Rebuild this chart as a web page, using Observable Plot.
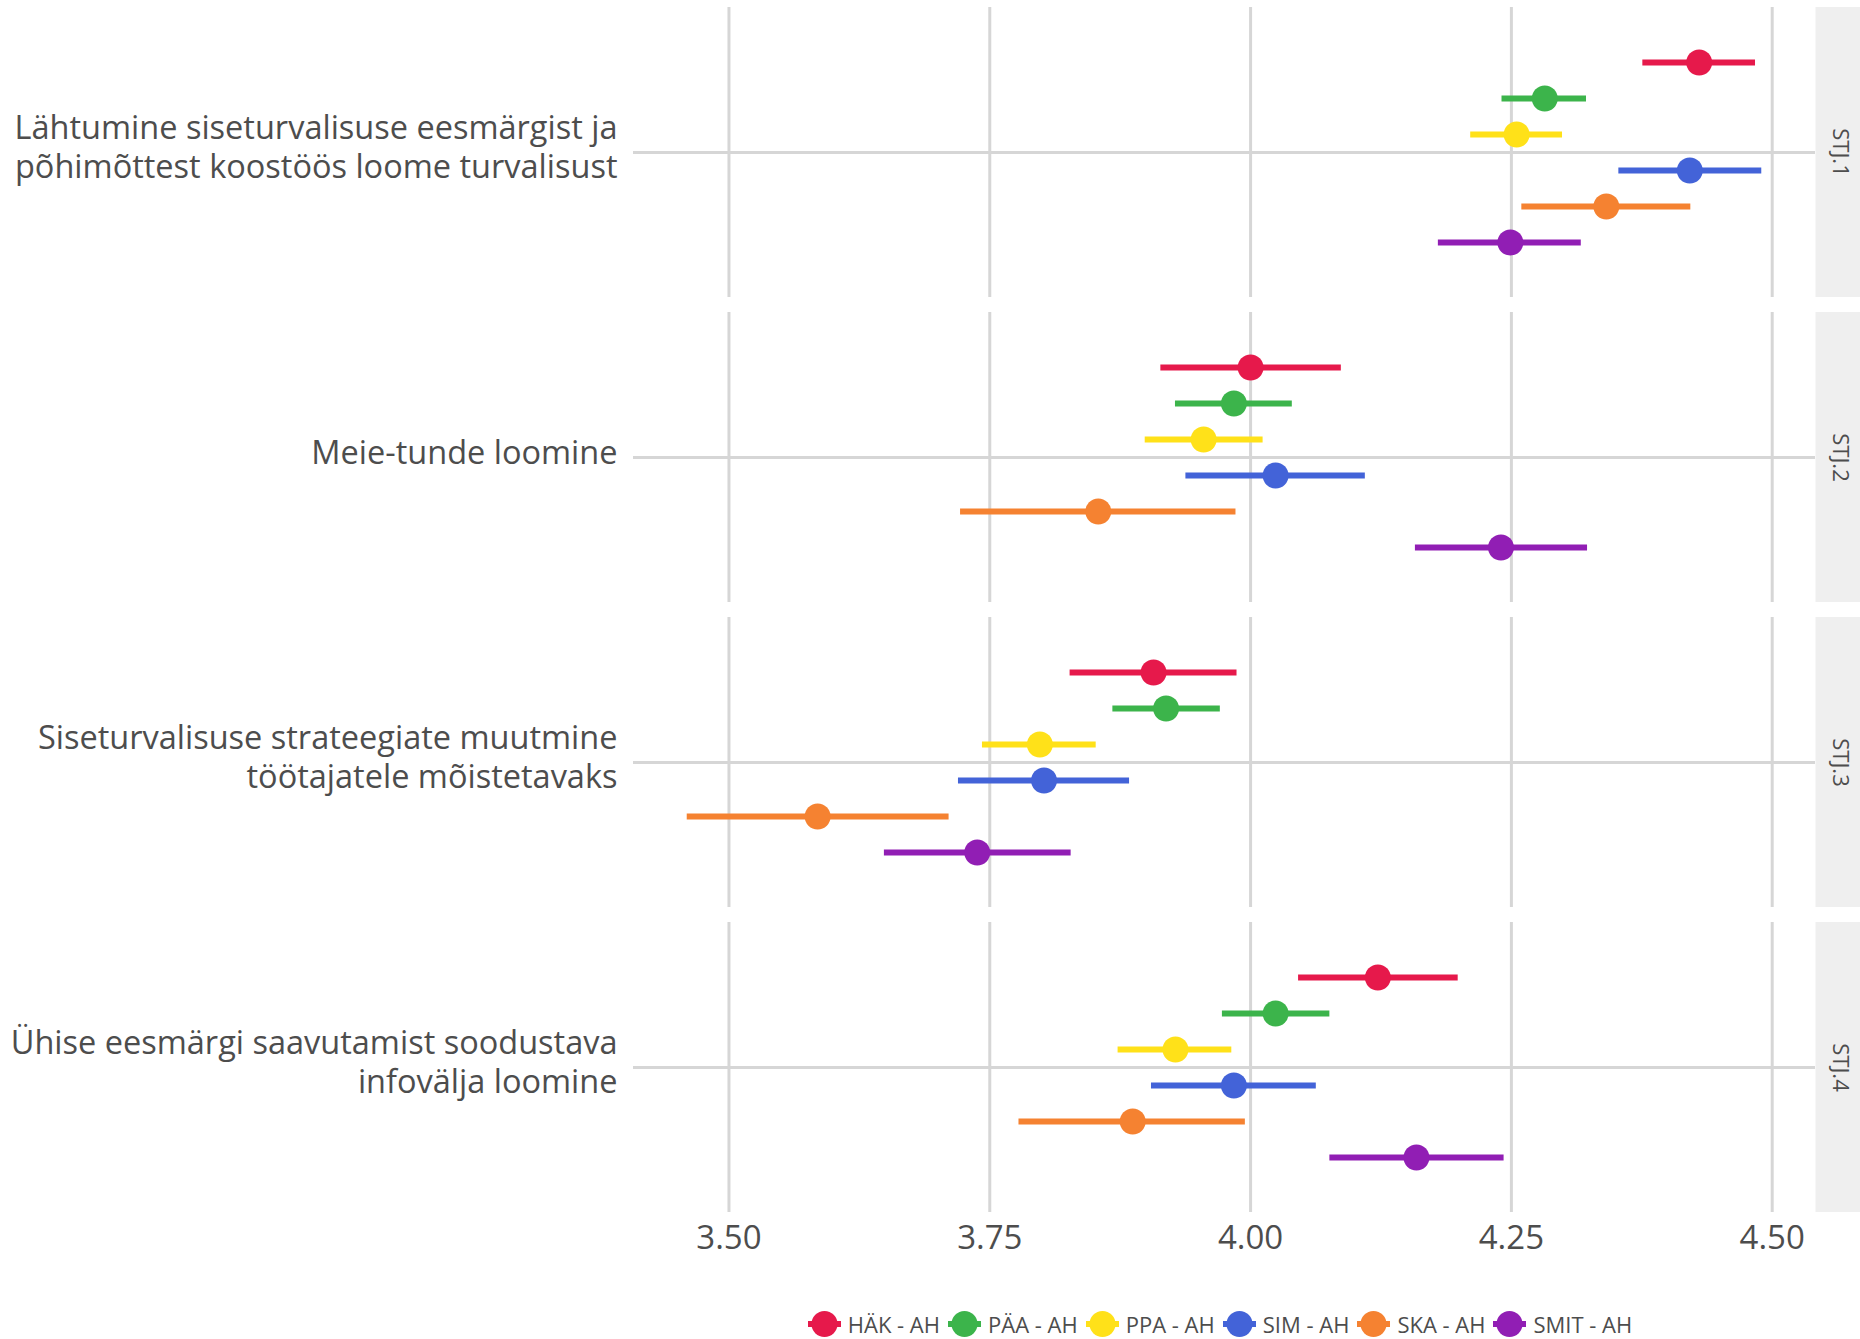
<!DOCTYPE html>
<html>
<head>
<meta charset="utf-8">
<script src="https://cdn.jsdelivr.net/npm/d3@7"></script>
<script src="https://cdn.jsdelivr.net/npm/@observablehq/plot@0.6"></script>
<style>
  html, body { margin: 0; padding: 0; background: #ffffff; }
  body { width: 1860px; height: 1339px; overflow: hidden; font-family: "Open Sans", sans-serif; }
  #chart svg { display: block; }
  #legend {
    margin-left: 633px; width: 1182px; margin-top: 9px;
    display: flex; justify-content: center; align-items: center;
    font-family: "Open Sans", sans-serif; font-size: 22px; color: #4d4d4d;
  }
  #legend .item { display: flex; align-items: center; margin-right: 8px; }
  #legend .item svg { margin-right: 7px; }
</style>
</head>
<body>
<div id="chart"></div>
<div id="legend"></div>
<script>
// Dimensions (facets) and their descriptive labels
const dims = ["STJ.1", "STJ.2", "STJ.3", "STJ.4"];
const dimLabels = [
  "Lähtumine siseturvalisuse eesmärgist ja\npõhimõttest koostöös loome turvalisust",
  "Meie-tunde loomine",
  "Siseturvalisuse strateegiate muutmine\ntöötajatele mõistetavaks",
  "Ühise eesmärgi saavutamist soodustava\ninfovälja loomine"
];

// Groups and their colours
const groups = ["HÄK - AH", "PÄA - AH", "PPA - AH", "SIM - AH", "SKA - AH", "SMIT - AH"];
const groupColors = ["#e6194b", "#3cb44b", "#ffe119", "#4363d8", "#f58231", "#911eb4"];

// Mean scores per dimension (rows) and group (columns)
const meanValues = [
  [4.430, 4.282, 4.255, 4.421, 4.341, 4.249],
  [4.000, 3.984, 3.955, 4.024, 3.854, 4.240],
  [3.907, 3.919, 3.798, 3.802, 3.585, 3.738],
  [4.122, 4.024, 3.928, 3.984, 3.887, 4.159]
];
// Lower and upper confidence limits
const lowerValues = [
  [4.376, 4.241, 4.211, 4.353, 4.260, 4.180],
  [3.914, 3.928, 3.899, 3.938, 3.722, 4.158],
  [3.827, 3.868, 3.743, 3.720, 3.460, 3.649],
  [4.046, 3.973, 3.873, 3.905, 3.778, 4.076]
];
const upperValues = [
  [4.484, 4.322, 4.299, 4.490, 4.422, 4.317],
  [4.087, 4.040, 4.012, 4.110, 3.986, 4.323],
  [3.987, 3.971, 3.852, 3.884, 3.711, 3.828],
  [4.199, 4.076, 3.982, 4.063, 3.995, 4.243]
];

// X axis ticks
const xTicks = [3.50, 3.75, 4.00, 4.25, 4.50];

// Long-format table built from the arrays above
const rows = dims.flatMap((dim, i) => groups.map((group, j) => ({
  dim, group, mean: meanValues[i][j], lo: lowerValues[i][j], hi: upperValues[i][j]
})));

// x domain: data extent expanded by 5% on each side
const [xmin, xmax] = [d3.min(rows, d => d.lo), d3.max(rows, d => d.hi)];
const pad = (xmax - xmin) * 0.05;
const xDomain = [xmin - pad, xmax + pad];

const labelOf = new Map(dims.map((d, i) => [d, dimLabels[i]]));
const textColor = "#4d4d4d";
const gridColor = "#d6d6d6";
const stripWidth = 45;

const chart = Plot.plot({
  width: 1860,
  height: 1300,
  marginLeft: 633,
  marginRight: stripWidth,
  marginTop: 6,
  marginBottom: 88,
  style: { fontFamily: "Open Sans, sans-serif", color: textColor, background: "#ffffff" },
  x: { domain: xDomain },
  y: { type: "point", domain: groups, padding: 1.5, axis: null },
  fy: { domain: dims, paddingInner: 15.5 / 305.5, paddingOuter: 0 },
  color: { domain: groups, range: groupColors },
  marks: [
    // strip background on the right of each panel
    Plot.ruleX([xDomain[1]], { stroke: "#efefef", strokeWidth: stripWidth, dx: stripWidth / 2 }),
    Plot.gridX({ ticks: xTicks, stroke: gridColor, strokeOpacity: 1, strokeWidth: 3 }),
    Plot.gridFy({ stroke: gridColor, strokeOpacity: 1, strokeWidth: 3 }),
    Plot.axisX({
      ticks: xTicks, tickFormat: d3.format(".2f"), tickSize: 0, tickPadding: 13,
      fontSize: 33, fill: textColor, label: null
    }),
    Plot.axisFy({
      anchor: "left", tickSize: 0, tickPadding: 16, fontSize: 32.5, lineHeight: 1.2, dy: -6,
      fill: textColor, tickFormat: d => labelOf.get(d), label: null
    }),
    // strip labels
    Plot.text(dims, {
      fy: d => d, text: d => d, frameAnchor: "right", dx: stripWidth / 2 + 2,
      rotate: 90, fontSize: 22, fill: textColor, textAnchor: "middle", lineAnchor: "middle"
    }),
    // confidence intervals
    Plot.ruleY(rows, { fy: "dim", y: "group", x1: "lo", x2: "hi", stroke: "group", strokeWidth: 6 }),
    // means
    Plot.dot(rows, { fy: "dim", y: "group", x: "mean", fill: "group", r: 13 })
  ]
});
document.getElementById("chart").appendChild(chart);

// Legend: point with interval line, coloured per group
const legend = d3.select("#legend");
groups.forEach((g, i) => {
  const item = legend.append("div").attr("class", "item");
  const svg = item.append("svg").attr("width", 33).attr("height", 28);
  svg.append("line").attr("x1", 0).attr("x2", 33).attr("y1", 14).attr("y2", 14)
    .attr("stroke", groupColors[i]).attr("stroke-width", 6);
  svg.append("circle").attr("cx", 16.5).attr("cy", 14).attr("r", 13).attr("fill", groupColors[i]);
  item.append("span").text(g);
});
</script>
</body>
</html>
